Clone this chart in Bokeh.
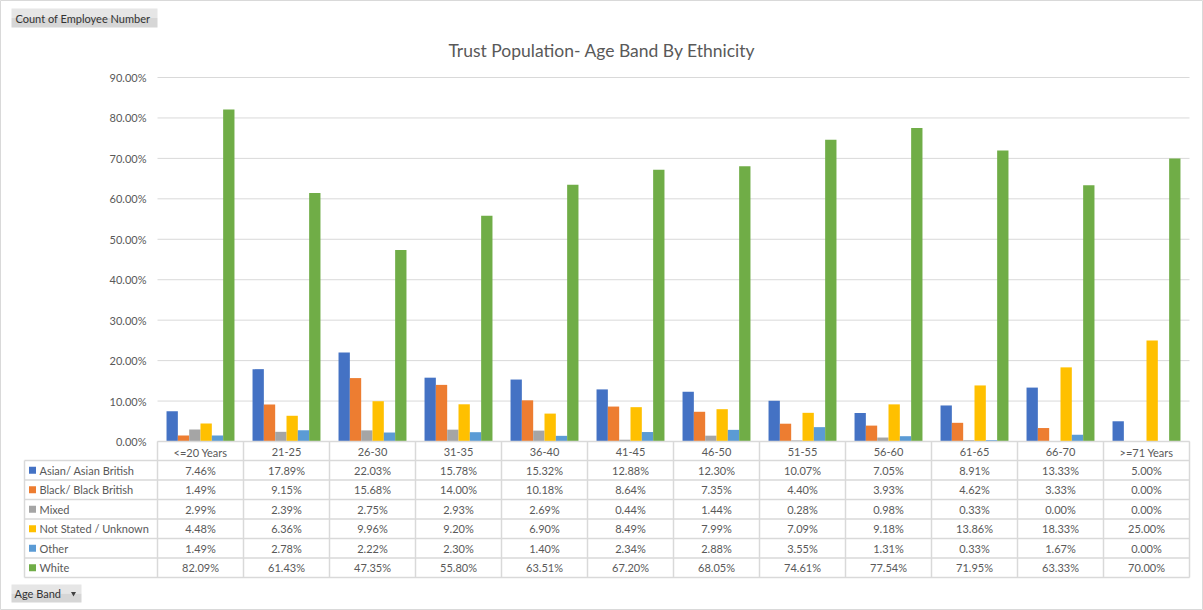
from bokeh.plotting import figure
from bokeh.models import Range1d, FixedTicker, PrintfTickFormatter, LinearAxis, ColumnDataSource
from bokeh.transform import dodge
from bokeh.embed import file_html
from bokeh.resources import INLINE
from bokeh.core.properties import value

# ---- data (percent of employees in each age band, by ethnicity) ----
age_bands = ["<=20 Years", "21-25", "26-30", "31-35", "36-40", "41-45", "46-50",
             "51-55", "56-60", "61-65", "66-70", ">=71 Years"]
series_names = ["Asian/ Asian British", "Black/ Black British", "Mixed",
                "Not Stated / Unknown", "Other", "White"]
asian = [7.46, 17.89, 22.03, 15.78, 15.32, 12.88, 12.30, 10.07, 7.05, 8.91, 13.33, 5.00]
black = [1.49, 9.15, 15.68, 14.00, 10.18, 8.64, 7.35, 4.40, 3.93, 4.62, 3.33, 0.00]
mixed = [2.99, 2.39, 2.75, 2.93, 2.69, 0.44, 1.44, 0.28, 0.98, 0.33, 0.00, 0.00]
not_stated = [4.48, 6.36, 9.96, 9.20, 6.90, 8.49, 7.99, 7.09, 9.18, 13.86, 18.33, 25.00]
other = [1.49, 2.78, 2.22, 2.30, 1.40, 2.34, 2.88, 3.55, 1.31, 0.33, 1.67, 0.00]
white = [82.09, 61.43, 47.35, 55.80, 63.51, 67.20, 68.05, 74.61, 77.54, 71.95, 63.33, 70.00]
y_ticks = [0, 10, 20, 30, 40, 50, 60, 70, 80, 90]

series_values = [asian, black, mixed, not_stated, other, white]
colors = ["#4472C4", "#ED7D31", "#A5A5A5", "#FFC000", "#5B9BD5", "#70AD47"]
keys = ["asian", "black", "mixed", "not_stated", "other", "white"]

# ---- page geometry (pixels) ----
W, H = 1203, 610
PLOT_LEFT, PLOT_RIGHT = 157, 1189
ZERO_Y, TOP_TICK_Y = 441, 77
n_cols = len(age_bands)
COL_W = (PLOT_RIGHT - PLOT_LEFT) / n_cols
PX_PER_PCT = (ZERO_Y - TOP_TICK_Y) / y_ticks[-1]

FONT = value("Lato")
TEXT_COL = "#595959"
GRID_COL = "#d9d9d9"


def col_x(px):
    """page x pixel -> column units (age band i spans [i, i+1])"""
    return (px - PLOT_LEFT) / COL_W


# main ranges: x in age-band columns, y in percent; extra "px" ranges in page pixels
p = figure(width=W, height=H,
           x_range=Range1d(col_x(0), col_x(W)),
           y_range=Range1d(-(H - ZERO_Y) / PX_PER_PCT, ZERO_Y / PX_PER_PCT),
           toolbar_location=None, output_backend="svg",
           x_axis_location=None, y_axis_location=None,
           min_border=0, min_border_left=0, min_border_right=0,
           min_border_top=0, min_border_bottom=0)
p.extra_x_ranges = {"px": Range1d(0, W)}
p.extra_y_ranges = {"px": Range1d(H, 0)}
p.xgrid.visible = False
p.ygrid.visible = False
p.background_fill_color = "white"
p.border_fill_color = "white"
p.outline_line_color = GRID_COL

# ---- header: field button + title ----
p.quad(left=[11, 11], right=[157, 157], top=[8, 17.5], bottom=[17.5, 27],
       fill_color=["#e6e6e6", "#d6d6d6"], line_color=None,
       x_range_name="px", y_range_name="px")
p.text(x=[15], y=[17.8], text=["Count of Employee Number"], text_font=FONT,
       text_font_size="11px", text_color="#333333", text_baseline="middle",
       x_range_name="px", y_range_name="px")
p.text(x=[W / 2], y=[50], text=["Trust Population- Age Band By Ethnicity"],
       text_font=FONT, text_font_size="17.5px", text_color=TEXT_COL,
       text_align="center", text_baseline="middle",
       x_range_name="px", y_range_name="px")

# ---- value axis and gridlines ----
yaxis = LinearAxis(fixed_location=0, ticker=FixedTicker(ticks=y_ticks),
                   formatter=PrintfTickFormatter(format="%.2f%%"))
yaxis.axis_line_color = None
yaxis.major_tick_line_color = None
yaxis.minor_tick_line_color = None
yaxis.major_tick_out = 0
yaxis.major_tick_in = 0
yaxis.major_label_standoff = 11
yaxis.major_label_text_font = "Lato"
yaxis.major_label_text_font_size = "11px"
yaxis.major_label_text_color = TEXT_COL
p.add_layout(yaxis, "left")

p.segment(x0=[0] * len(y_ticks), x1=[n_cols] * len(y_ticks), y0=y_ticks, y1=y_ticks,
          line_color=GRID_COL, line_width=1)

# ---- clustered columns ----
source = ColumnDataSource(dict(pos=[i + 0.5 for i in range(n_cols)],
                               **{k: v for k, v in zip(keys, series_values)}))
group_w = 0.79
bar_w = group_w / len(keys)
for j, (k, c) in enumerate(zip(keys, colors)):
    off = (j - (len(keys) - 1) / 2) * bar_w
    p.vbar(x=dodge("pos", off), top=k, bottom=0, width=bar_w,
           source=source, fill_color=c, line_color=None)

# ---- data table under the chart (y in page pixels) ----
TOP = ZERO_Y
HDR_H = 19
ROW_H = 19.5
n_rows = len(series_names)
bottom = TOP + HDR_H + n_rows * ROW_H
legend_left = col_x(24)

hx0 = [0] + [legend_left] * (n_rows + 1)
hx1 = [n_cols] * (n_rows + 2)
hy = [TOP] + [TOP + HDR_H + r * ROW_H for r in range(n_rows)] + [bottom]
p.segment(x0=hx0, x1=hx1, y0=hy, y1=hy, line_color=GRID_COL, line_width=1.5,
          y_range_name="px")
vx = list(range(n_cols + 1)) + [legend_left]
vy0 = [TOP] * (n_cols + 1) + [TOP + HDR_H]
vy1 = [bottom] * (n_cols + 2)
p.segment(x0=vx, x1=vx, y0=vy0, y1=vy1, line_color=GRID_COL, line_width=1.5,
          y_range_name="px")

# header row: age bands
p.text(x=[i + 0.5 for i in range(n_cols)], y=[TOP + HDR_H / 2 + 1] * n_cols, text=age_bands,
       text_font=FONT, text_font_size="11px", text_color=TEXT_COL,
       text_align="center", text_baseline="middle", y_range_name="px")

# value cells
cx, cy, ct = [], [], []
for r, vals in enumerate(series_values):
    for i, v in enumerate(vals):
        cx.append(i + 0.5)
        cy.append(TOP + HDR_H + (r + 0.5) * ROW_H)
        ct.append(f"{v:.2f}%")
p.text(x=cx, y=cy, text=ct, text_font=FONT, text_font_size="11px",
       text_color=TEXT_COL, text_align="center", text_baseline="middle",
       y_range_name="px")

# legend keys + series names
ry = [TOP + HDR_H + (r + 0.5) * ROW_H for r in range(n_rows)]
p.scatter(x=[col_x(32)] * n_rows, y=ry, marker="square", size=7,
          fill_color=colors, line_color=None, y_range_name="px")
p.text(x=[col_x(39)] * n_rows, y=ry, text=series_names, text_font=FONT,
       text_font_size="11px", text_color=TEXT_COL, text_baseline="middle",
       y_range_name="px")

# "Age Band" field button
p.quad(left=[11, 11], right=[81, 81], top=[584, 593], bottom=[593, 602],
       fill_color=["#e6e6e6", "#d6d6d6"], line_color=None,
       x_range_name="px", y_range_name="px")
p.text(x=[14], y=[593.3], text=["Age Band"], text_font=FONT,
       text_font_size="11px", text_color="#333333", text_baseline="middle",
       x_range_name="px", y_range_name="px")
p.scatter(x=[73], y=[593], marker="inverted_triangle", size=5,
          fill_color="#404040", line_color=None, x_range_name="px", y_range_name="px")

open("out.html", "w").write(file_html(p, INLINE))
